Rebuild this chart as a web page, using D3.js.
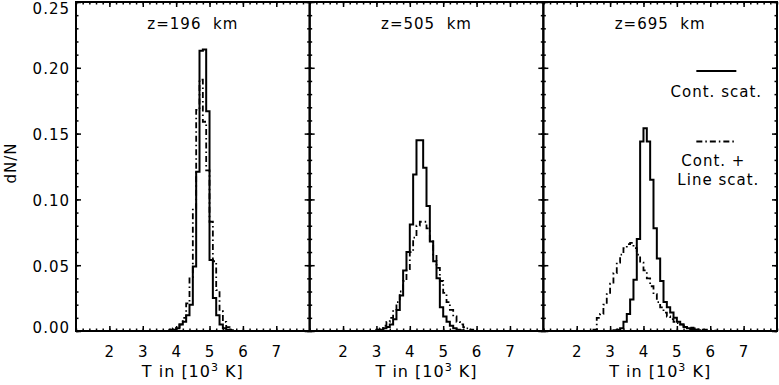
<!DOCTYPE html>
<html>
<head>
<meta charset="utf-8">
<script src="https://cdn.jsdelivr.net/npm/d3@7"></script>
<style>
	body { margin: 0; background: #fff; }
	svg text { font-family: "DejaVu Sans", sans-serif; font-size: 15px; fill: #000; letter-spacing: 1px; }
	.frame { fill: none; stroke: #000; stroke-width: 2; }
	.tick line { stroke: #000; stroke-width: 1.5; }
	.domain { display: none; }
	.hist { fill: none; stroke: #000; stroke-width: 2; stroke-linejoin: miter; }
	.dashdot { stroke-dasharray: 6,3,1.5,3; stroke-width: 1.8; }
</style>
</head>
<body>
<div id="chart"></div>
<script>
	'use strict'
	// heights above the photosphere, one panel each
	let heights = ["z=196  km", "z=505  km", "z=695  km"]
	let binWidth = 0.1  // 10^3 K

	// first bin (lower edge, 10^3 K) of each histogram
	let contStart = [3.8, 3.0, 3.1]
	let lineStart = [3.8, 3.0, 2.5]

	// dN/N, continuum scattering only
	let cont196 = [0.0005, 0.001, 0.002, 0.005, 0.007, 0.012, 0.020, 0.049, 0.121, 0.213,
		0.214, 0.167, 0.054, 0.025, 0.012, 0.005, 0.002, 0.001, 0.0005]
	let cont505 = [0.0005, 0.001, 0.002, 0.003, 0.005, 0.009, 0.016, 0.027, 0.046, 0.060,
		0.081, 0.119, 0.145, 0.145, 0.124, 0.095, 0.068, 0.053, 0.040, 0.018,
		0.011, 0.007, 0.004, 0.002, 0.001, 0.0005]
	let cont695 = [0.0005, 0.001, 0.002, 0.007, 0.013, 0.024, 0.039, 0.070, 0.144, 0.154,
		0.144, 0.115, 0.078, 0.055, 0.038, 0.022, 0.018, 0.014, 0.010, 0.007,
		0.005, 0.003, 0.002, 0.0015, 0.001, 0.0005]

	// dN/N, continuum + line scattering
	let line196 = [0.001, 0.002, 0.003, 0.005, 0.010, 0.021, 0.041, 0.093, 0.168, 0.191,
		0.159, 0.122, 0.083, 0.053, 0.031, 0.015, 0.007, 0.003, 0.001]
	let line505 = [0.001, 0.002, 0.004, 0.007, 0.010, 0.016, 0.022, 0.030, 0.038, 0.047,
		0.060, 0.071, 0.080, 0.083, 0.083, 0.078, 0.068, 0.058, 0.048, 0.038,
		0.029, 0.022, 0.016, 0.011, 0.007, 0.005, 0.003, 0.002, 0.001]
	let line695 = [0.001, 0.010, 0.013, 0.020, 0.028, 0.036, 0.044, 0.052, 0.058, 0.063,
		0.066, 0.067, 0.063, 0.058, 0.052, 0.046, 0.040, 0.034, 0.028, 0.022,
		0.018, 0.014, 0.011, 0.009, 0.007, 0.006, 0.005, 0.004, 0.003, 0.0025,
		0.002, 0.0015, 0.001, 0.001, 0.0007, 0.0005, 0.0003]

	let contSeries = [cont196, cont505, cont695]
	let lineSeries = [line196, line505, line695]

	let xTicks = [2, 3, 4, 5, 6, 7]
	let yTicks = [0.00, 0.05, 0.10, 0.15, 0.20, 0.25]

	let w = 779
	let h = 385
	let margins = {top: 2, bottom: 54, left: 76, right: 2}
	let panelW = (w - margins.left - margins.right) / 3
	let plotBottom = h - margins.bottom

	let svg = d3.select('#chart')
		.append("svg")
		.attr('width', w)
		.attr('height', h)

	let y = d3.scaleLinear().domain([0, 0.25]).range([plotBottom, margins.top])
	let xMinor = d3.range(1, 8.01, 0.2)
	let yMinor = d3.range(0, 0.2501, 0.01)

	function histPoints(start, vals){
		let pts = [[start, 0]]
		vals.forEach(function(v, i){
			let lo = start + i * binWidth
			pts.push([lo, v])
			pts.push([lo + binWidth, v])
		})
		pts.push([start + vals.length * binWidth, 0])
		return pts
	}

	heights.forEach(function(label, p){
		let x0 = margins.left + p * panelW
		let x = d3.scaleLinear().domain([1, 8]).range([x0, x0 + panelW])
		let g = svg.append("g").attr("class", "panel")

		// minor ticks on all four sides
		g.append("g").attr("transform", "translate(0," + plotBottom + ")")
			.call(d3.axisBottom(x).tickValues(xMinor).tickSize(-2.5).tickFormat(""))
		g.append("g").attr("transform", "translate(0," + margins.top + ")")
			.call(d3.axisTop(x).tickValues(xMinor).tickSize(-2.5).tickFormat(""))
		g.append("g").attr("transform", "translate(" + x0 + ",0)")
			.call(d3.axisLeft(y).tickValues(yMinor).tickSize(-2.5).tickFormat(""))
		g.append("g").attr("transform", "translate(" + (x0 + panelW) + ",0)")
			.call(d3.axisRight(y).tickValues(yMinor).tickSize(-2.5).tickFormat(""))

		// major ticks
		let bottom = g.append("g").attr("transform", "translate(0," + plotBottom + ")")
			.call(d3.axisBottom(x).tickValues(xTicks).tickSize(-5).tickPadding(15).tickFormat(d3.format("d")))
		bottom.selectAll("text").attr("dy", "0.71em")
		g.append("g").attr("transform", "translate(0," + margins.top + ")")
			.call(d3.axisTop(x).tickValues(xTicks).tickSize(-5).tickFormat(""))
		let left = g.append("g").attr("transform", "translate(" + x0 + ",0)")
			.call(d3.axisLeft(y).tickValues(yTicks).tickSize(-5).tickPadding(6)
				.tickFormat(p == 0 ? d3.format(".2f") : function(){ return "" }))
		left.selectAll("text")
			.attr("dy", null)
			.attr("dominant-baseline", "central")
			.attr("y", function(d){
				let ty = y(d)
				return Math.min(Math.max(ty + 1, 8.5), plotBottom - 3.5) - ty
			})
		g.append("g").attr("transform", "translate(" + (x0 + panelW) + ",0)")
			.call(d3.axisRight(y).tickValues(yTicks).tickSize(-5).tickFormat(""))

		// histograms
		let line = d3.line()
			.x(function(d){ return x(d[0]) })
			.y(function(d){ return y(d[1]) })
		g.append("path").attr("class", "hist dashdot")
			.attr("d", line(histPoints(lineStart[p], lineSeries[p])))
		g.append("path").attr("class", "hist")
			.attr("d", line(histPoints(contStart[p], contSeries[p])))

		g.append("rect").attr("class", "frame")
			.attr("x", x0).attr("y", margins.top)
			.attr("width", panelW).attr("height", plotBottom - margins.top)

		// panel title
		g.append("text")
			.attr("x", x0 + panelW / 2)
			.attr("y", 28.5)
			.attr("text-anchor", "middle")
			.style("white-space", "pre")
			.text(label)

		// x axis title
		let xt = g.append("text")
			.attr("x", x0 + panelW / 2)
			.attr("y", 376.5)
			.attr("text-anchor", "middle")
			.style("font-size", "16px")
		xt.append("tspan").text("T in [10")
		xt.append("tspan").attr("dy", -6).style("font-size", "11px").text("3")
		xt.append("tspan").attr("dy", 6).text(" K]")
	})

	svg.append("text")
		.attr("transform", "translate(16," + 163 + ") rotate(-90)")
		.attr("text-anchor", "middle")
		.text("dN/N")

	// legend inside the last panel
	let lx = margins.left + 2 * panelW + 173
	let legend = svg.append("g").attr("id", "legend")
	legend.append("line").attr("class", "hist")
		.attr("x1", lx - 20).attr("x2", lx + 20).attr("y1", 71).attr("y2", 71)
	legend.append("text").attr("x", lx).attr("y", 96.5).attr("text-anchor", "middle").text("Cont. scat.")
	legend.append("line").attr("class", "hist dashdot")
		.attr("x1", lx - 20).attr("x2", lx + 20).attr("y1", 141.5).attr("y2", 141.5)
	legend.append("text").attr("x", lx - 3).attr("y", 166).attr("text-anchor", "middle").text("Cont. +")
	legend.append("text").attr("x", lx + 2).attr("y", 185).attr("text-anchor", "middle").text("Line scat.")
</script>
</body>
</html>
